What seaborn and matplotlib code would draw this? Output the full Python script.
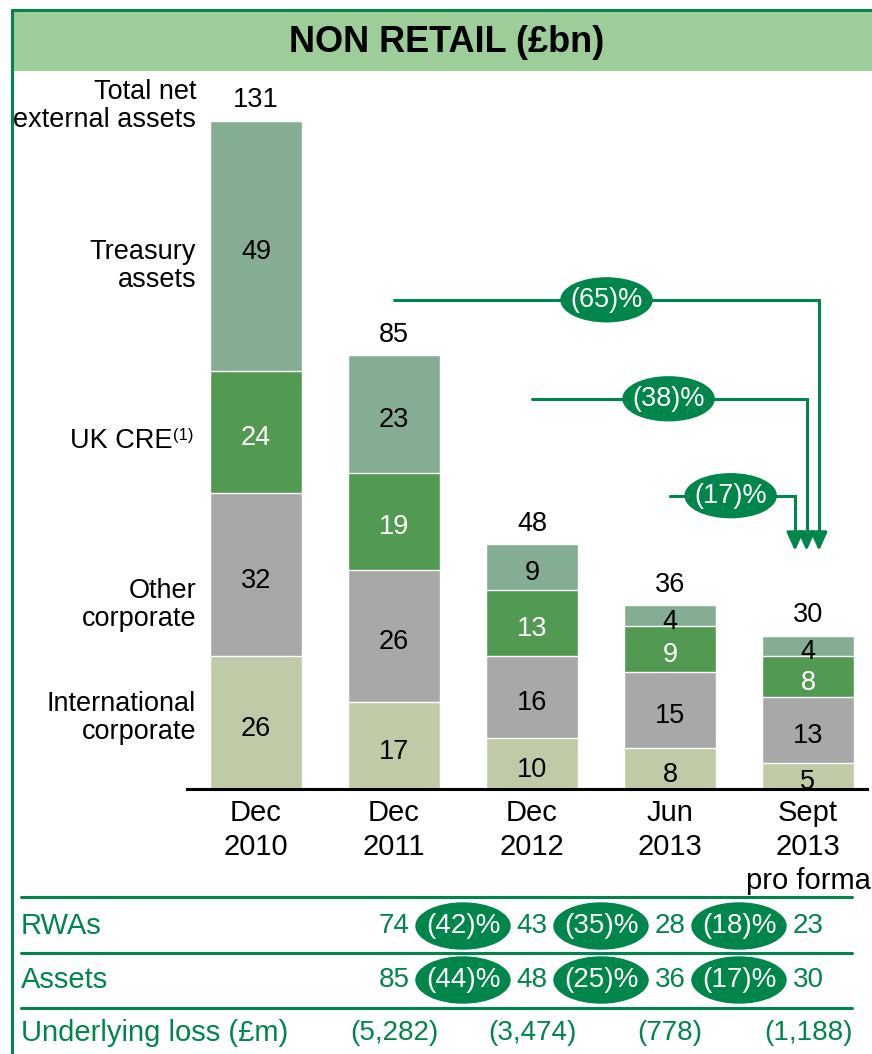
import numpy as np
import pandas as pd
import seaborn as sns
import matplotlib.pyplot as plt
from matplotlib.patches import Ellipse, Rectangle
from matplotlib.lines import Line2D

# Data
periods = ["Dec\n2010", "Dec\n2011", "Dec\n2012", "Jun\n2013", "Sept\n2013\npro forma"]
international = [26, 17, 10, 8, 5]
other_corp = [32, 26, 16, 15, 13]
uk_cre = [24, 19, 13, 9, 8]
treasury = [49, 23, 9, 4, 4]
totals = [131, 85, 48, 36, 30]

change_labels = ["(65)%", "(38)%", "(17)%"]
change_from = [1, 2, 3]

rwas = [74, 43, 28, 23]
rwa_changes = ["(42)%", "(35)%", "(18)%"]
assets = [85, 48, 36, 30]
asset_changes = ["(44)%", "(25)%", "(17)%"]
losses = ["(5,282)", "(3,474)", "(778)", "(1,188)"]

# colours
GREEN = "#00854a"
HEADER = "#9dcd98"
C_TREAS = "#85ad93"
C_CRE = "#529a52"
C_OTHER = "#a8a8a8"
C_INTL = "#bfcba6"

sns.set_style("white")
plt.rcParams['font.family'] = ['Liberation Sans', 'DejaVu Sans']
plt.rcParams['text.color'] = 'black'
plt.rcParams['xtick.color'] = 'black'

W, H = 872, 1054
fig = plt.figure(figsize=(W / 100, H / 100), dpi=100)

# main chart axes (pixel layout: baseline at y=789, 5.1 px per £bn, 138 px per bar)
ax = fig.add_axes([187 / W, 1 - 789 / H, (867 - 187) / W, (789 - 80) / H])

# stacked bars, drawn as cumulative layers from the top down
layers = [("International", international, C_INTL, "black"),
          ("Other", other_corp, C_OTHER, "black"),
          ("UK CRE", uk_cre, C_CRE, "white"),
          ("Treasury", treasury, C_TREAS, "black")]
tops = np.cumsum([np.array(v) for _, v, _, _ in layers], axis=0)
for k in range(len(layers) - 1, -1, -1):
    df = pd.DataFrame({"period": periods, "value": tops[k]})
    sns.barplot(data=df, x="period", y="value", order=periods, color=layers[k][2],
                width=0.67, edgecolor="white", linewidth=1, errorbar=None,
                saturation=1, ax=ax)

# segment labels
for k, (name, vals, col, tcol) in enumerate(layers):
    bottoms = tops[k] - np.array(vals)
    for i, v in enumerate(vals):
        ax.text(i, bottoms[i] + v / 2 - 1.2, str(v), ha="center", va="center",
                fontsize=19.5, color=tcol)

for i, t in enumerate(totals):
    ax.text(i, t + 1.5, str(t), ha="center", va="bottom", fontsize=19.5, color="black")

ax.set_xlim(-0.5, 4.428)
ax.set_ylim(0, 139)
for s in ["top", "right", "left"]:
    ax.spines[s].set_visible(False)
ax.spines["bottom"].set_linewidth(2.2)
ax.spines["bottom"].set_color("black")
ax.set_yticks([])
ax.set_xlabel("")
ax.set_ylabel("")
ax.tick_params(axis="x", length=0, labelsize=21, pad=7)
for t in ax.get_xticklabels():
    t.set_linespacing(1.28)

# reduction arrows
arrow_y = [95.9, 76.5, 57.5]
arrow_x_end = [4.08, 3.99, 3.906]
label_x = [2.54, 2.99, 3.44]
tip_y = 46.7
for lab, x0, y, x1, lx in zip(change_labels, change_from, arrow_y, arrow_x_end, label_x):
    ax.plot([x0, x1, x1], [y, y, tip_y + 2.5], color=GREEN, lw=2.2,
            solid_joinstyle="miter", zorder=3)
    ax.annotate("", xy=(x1, tip_y), xytext=(x1, tip_y + 3.5),
                arrowprops=dict(arrowstyle="-|>,head_length=0.55,head_width=0.25",
                                mutation_scale=20, color=GREEN, lw=2.2,
                                shrinkA=0, shrinkB=0), zorder=3)
    ax.add_patch(Ellipse((lx, y), width=0.66, height=8.6, color=GREEN, zorder=4))
    ax.text(lx, y, lab, ha="center", va="center", fontsize=19.5, color="white", zorder=5)

# left-hand category labels
side_labels = [("Total net\nexternal assets", 106), ("Treasury\nassets", 266),
               ("Other\ncorporate", 605), ("International\ncorporate", 718)]
for txt, ypx in side_labels:
    fig.text(196 / W, 1 - ypx / H, txt, ha="right", va="center", fontsize=19.5,
             linespacing=1.1)
fig.text(172 / W, 1 - 441 / H, "UK CRE", ha="right", va="center", fontsize=19.5)
fig.text(173 / W, 1 - 436 / H, "(1)", ha="left", va="center", fontsize=12)

# header band and frame
fig.add_artist(Rectangle((12 / W, 1 - 71 / H), (872 - 12) / W, (71 - 10) / H,
                         transform=fig.transFigure, facecolor=HEADER,
                         edgecolor="none"))
fig.add_artist(Line2D([12 / W, 1], [1 - 10 / H, 1 - 10 / H], color=GREEN, lw=2.2))
fig.add_artist(Line2D([12 / W, 12 / W], [0, 1 - 10 / H], color=GREEN, lw=2.2))
fig.text(447 / W, 1 - 42 / H, "NON RETAIL (£bn)", ha="center", va="center",
         fontsize=26, fontweight="bold")

# table underneath
tab = fig.add_axes([0, 0, 1, (H - 880) / H])
tab.set_xlim((0 - 256) / 138, (872 - 256) / 138)
tab.set_ylim(H, 880)
tab.axis("off")
for yl in [897, 953, 1008]:
    tab.plot([(21 - 256) / 138, (852 - 256) / 138], [yl, yl], color=GREEN, lw=2.2)

rows = [("RWAs", 926, rwas, rwa_changes), ("Assets", 980, assets, asset_changes)]
for name, yr, vals, chg in rows:
    tab.text((21 - 256) / 138, yr, name, ha="left", va="center", fontsize=21, color=GREEN)
    for i, v in enumerate(vals):
        tab.text(i + 1, yr, str(v), ha="center", va="center", fontsize=20, color=GREEN)
    for i, c in enumerate(chg):
        tab.add_patch(Ellipse((i + 1.5, yr), width=94 / 138, height=46, color=GREEN))
        tab.text(i + 1.5, yr, c, ha="center", va="center", fontsize=20, color="white")

tab.text((21 - 256) / 138, 1033, "Underlying loss (£m)", ha="left", va="center",
         fontsize=21, color=GREEN)
for i, v in enumerate(losses):
    tab.text(i + 1, 1033, v, ha="center", va="center", fontsize=20, color=GREEN)

fig.savefig("out.png", dpi=100)
